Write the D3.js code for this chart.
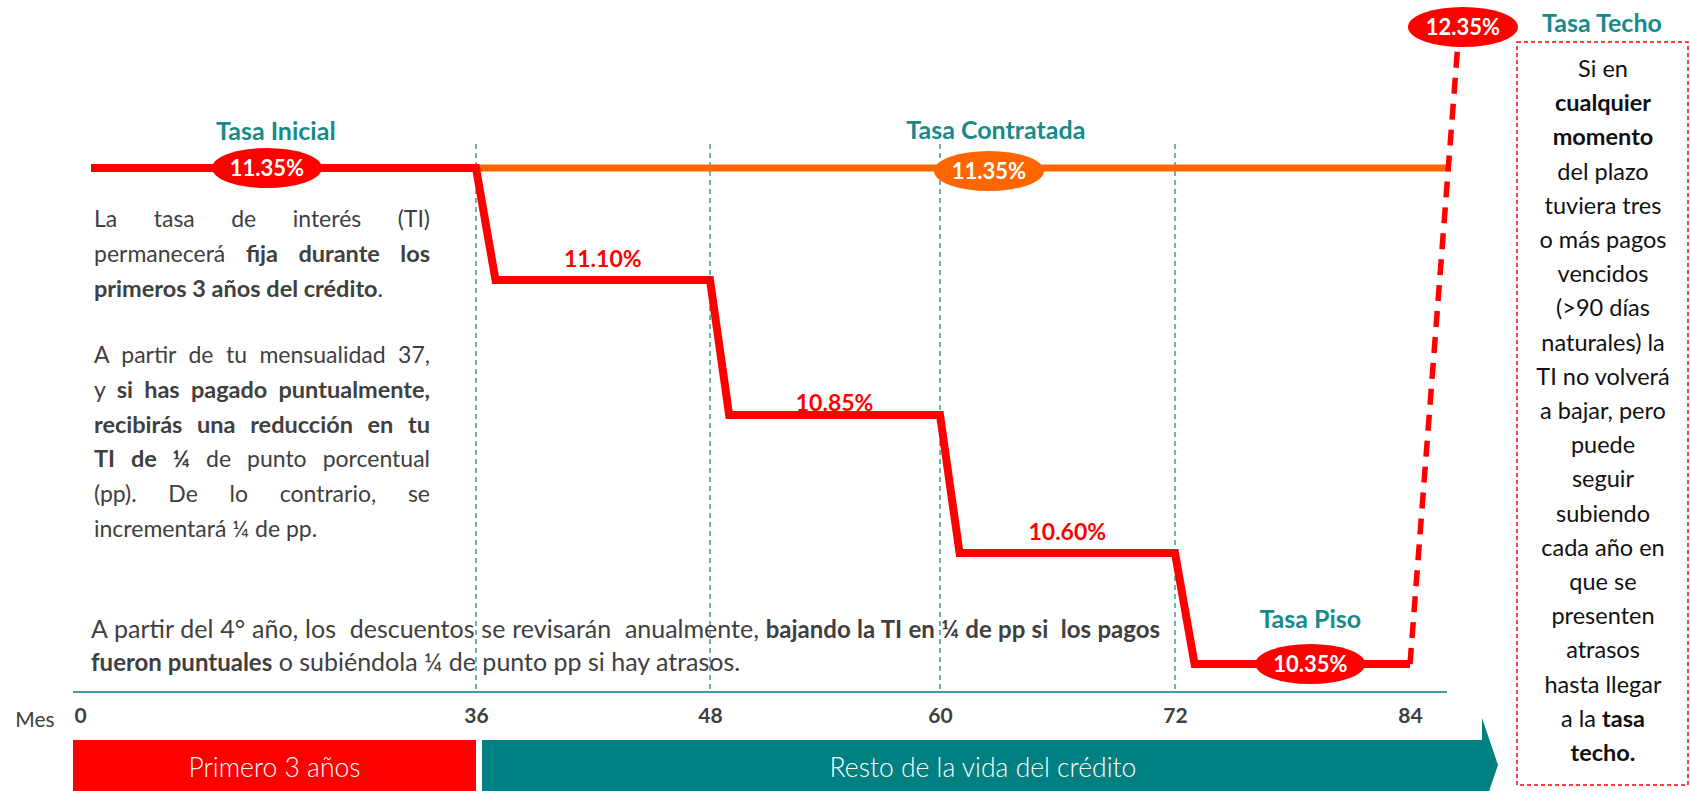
<!doctype html>
<html>
<head>
<meta charset="utf-8"/>
<script src="https://cdnjs.cloudflare.com/ajax/libs/d3/7.8.5/d3.min.js"></script>
<style>
  body { margin: 0; background: #fff; }
  svg { display: block; font-family: Lato, "Open Sans", sans-serif; }
  text { white-space: pre; }
</style>
</head>
<body>
<svg width="1690" height="791"></svg>
<script>
// --- data ---
var tickMonths = [0, 36, 48, 60, 72, 84];
var gridMonths = [36, 48, 60, 72];
var rateMonths = [1, 36, 37, 48, 49, 60, 61, 72, 73, 84];
var rateValues = [11.35, 11.35, 11.10, 11.10, 10.85, 10.85, 10.60, 10.60, 10.35, 10.35];
var contractMonths = [36, 86];
var contractValues = [11.35, 11.35];
var ceilingMonths = [84, 86.5];
var ceilingValues = [10.35, 12.35];
var periodNames = ["Primero 3 años", "Resto de la vida del crédito"];
var periodStart = [0, 36];
var periodEnd = [36, 84];

var red = "#ff0000", orange = "#ff6600", teal = "#008080", tealText = "#178a8a", gray = "#404040";

var svg = d3.select("svg");

// the drawing is not to scale, so both scales are piecewise
var x = d3.scaleLinear().domain(tickMonths).range([80, 476, 710, 940, 1175, 1410]);
var y = d3.scaleLinear().domain([10.35, 10.60, 10.85, 11.10, 11.35, 12.35]).range([664, 553, 415, 280, 168, 30]);
var fmt = function(v){ return d3.format(".2f")(v) + "%"; };

// dashed year lines
svg.append("g").selectAll("line").data(gridMonths).enter().append("line")
  .attr("x1", d => x(d)).attr("x2", d => x(d)).attr("y1", 144).attr("y2", 692)
  .attr("stroke", "#3a9a9a").attr("stroke-width", 1.5).attr("stroke-dasharray", "5,4");

// axis line + ticks
svg.append("line").attr("x1", 73).attr("x2", 1447).attr("y1", 692).attr("y2", 692)
  .attr("stroke", "#3f9f9f").attr("stroke-width", 2);

var xAxis = d3.axisBottom(x).tickValues(tickMonths).tickSize(0).tickPadding(0);
var axisG = svg.append("g").attr("transform", "translate(0,708)").call(xAxis);
axisG.select(".domain").remove();
axisG.selectAll("text").attr("font-family", "Lato, sans-serif").attr("font-size", 21)
  .attr("font-weight", "bold").attr("fill", gray).attr("dy", "0.71em");
svg.append("text").attr("x", 35).attr("y", 727).attr("text-anchor", "middle")
  .attr("font-size", 21).attr("fill", gray).text("Mes");

// period bars
svg.append("rect").attr("x", 73).attr("y", 740).attr("width", x(periodEnd[0]) - 73).attr("height", 60).attr("fill", red);
var tealX0 = x(periodStart[1]) + 6, tealX1 = 1482;
svg.append("path").attr("fill", teal)
  .attr("d", "M" + tealX0 + ",740H" + tealX1 + "V718L1498,765L" + tealX1 + ",812V800H" + tealX0 + "Z");
svg.selectAll(".period").data(periodNames).enter().append("text")
  .attr("x", (d, i) => i == 0 ? (73 + x(periodEnd[0])) / 2 : 983)
  .attr("y", 777).attr("text-anchor", "middle").attr("fill", "#fff")
  .attr("font-size", 26.5).attr("font-weight", 300).text(d => d);

// contracted rate (orange)
var line = d3.line().x(d => x(d[0])).y(d => y(d[1]));
svg.append("path").datum(d3.zip(contractMonths, contractValues))
  .attr("d", line).attr("fill", "none").attr("stroke", orange).attr("stroke-width", 7);

// ceiling jump (dashed)
svg.append("path").datum(d3.zip(ceilingMonths, ceilingValues))
  .attr("d", line).attr("fill", "none").attr("stroke", red).attr("stroke-width", 5.5)
  .attr("stroke-dasharray", "16,10");

// rate steps
svg.append("path").datum(d3.zip(rateMonths, rateValues))
  .attr("d", line).attr("fill", "none").attr("stroke", red).attr("stroke-width", 8)
  .attr("stroke-linejoin", "miter");

// step labels (intermediate levels) at middle of each flat segment
var nudge = {"10.85": 9};
for (var i = 2; i < rateMonths.length - 2; i += 2) {
  var v = rateValues[i];
  svg.append("text").attr("x", (x(rateMonths[i]) + x(rateMonths[i + 1])) / 2)
    .attr("y", y(v) - 13 + (nudge[v.toFixed(2)] || 0))
    .attr("text-anchor", "middle").attr("font-size", 23).attr("font-weight", "bold")
    .attr("fill", red).text(fmt(v));
}

// ellipse badges
function badge(cx, cy, fill, label) {
  svg.append("ellipse").attr("cx", cx).attr("cy", cy).attr("rx", 55).attr("ry", 20).attr("fill", fill);
  svg.append("text").attr("x", cx).attr("y", cy + 8).attr("text-anchor", "middle")
    .attr("font-size", 22).attr("font-weight", "bold").attr("fill", "#fff").text(label);
}
function title(cx, by, label) {
  svg.append("text").attr("x", cx).attr("y", by).attr("text-anchor", "middle")
    .attr("font-size", 25).attr("font-weight", "bold").attr("fill", tealText).text(label);
}
badge(x(17), y(rateValues[0]), red, fmt(rateValues[0]));
title(x(17.8), 140, "Tasa Inicial");
badge(x(62.5), y(contractValues[0]) + 3, orange, fmt(contractValues[0]));
title(x(62.85), 139, "Tasa Contratada");
var last = rateValues.length - 1;
badge((x(rateMonths[last - 1]) + x(rateMonths[last])) / 2 + 8, y(rateValues[last]), red, fmt(rateValues[last]));
title((x(rateMonths[last - 1]) + x(rateMonths[last])) / 2 + 8, 628, "Tasa Piso");
badge(x(ceilingMonths[1]) + 4, 27, red, fmt(ceilingValues[1]));
title(1602, 32, "Tasa Techo");

// rich text helper: segs = [[text, bold], ...]
function rich(xp, yp, segs, o) {
  var t = svg.append("text").attr("x", xp).attr("y", yp).attr("font-size", o.size)
    .attr("fill", o.color).attr("text-anchor", o.anchor || "start");
  segs.forEach(function(s){
    var ts = t.append("tspan").attr("font-weight", s[1] ? "bold" : "normal").text(s[0]);
    if (s[1] && o.boldSize) ts.attr("font-size", o.boldSize);
  });
  if (o.width) {
    var nat = t.node().getComputedTextLength();
    var spaces = segs.map(s => s[0]).join("").split(" ").length - 1;
    if (spaces > 0) t.attr("word-spacing", (o.width - nat) / spaces);
  }
  return t;
}

// left paragraph (justified between 94 and 430)
var para = [
  [[["La tasa de interés (TI)", 0]], true],
  [[["permanecerá ", 0], ["fija durante los", 1]], true],
  [[["primeros 3 años del crédito", 1], [".", 0]], false],
  null,
  [[["A partir de tu mensualidad 37,", 0]], true],
  [[["y ", 0], ["si has pagado puntualmente,", 1]], true],
  [[["recibirás una reducción en tu", 1]], true],
  [[["TI de ¼", 1], [" de punto porcentual", 0]], true],
  [[["(pp). De lo contrario, se", 0]], true],
  [[["incrementará ¼ de pp.", 0]], false]
];
var baselines = [227, 262, 297, null, 363, 398, 433, 467, 502, 537];
para.forEach(function(p, i){
  if (!p) return;
  rich(94, baselines[i], p[0], {size: 23, boldSize: 23.5, color: gray, width: p[1] ? 336 : null});
});

// bottom note
rich(91, 638, [["A partir del 4° año, los  descuentos se revisarán  anualmente, ", 0], ["bajando la TI en ¼ de pp si  los pagos", 1]],
  {size: 25, boldSize: 24, color: gray, width: 1069});
rich(91, 671, [["fueron puntuales", 1], [" o subiéndola ¼ de punto pp si hay atrasos.", 0]],
  {size: 25, boldSize: 24, color: gray});

// ceiling note box
svg.append("rect").attr("x", 1517).attr("y", 42).attr("width", 171).attr("height", 743)
  .attr("fill", "none").attr("stroke", red).attr("stroke-width", 1.5).attr("stroke-dasharray", "4,3");
var boxLines = [
  [["Si en", 0]], [["cualquier", 1]], [["momento", 1]], [["del plazo", 0]], [["tuviera tres", 0]],
  [["o más pagos", 0]], [["vencidos", 0]], [["(>90 días", 0]], [["naturales) la", 0]],
  [["TI no volverá", 0]], [["a bajar, pero", 0]], [["puede", 0]], [["seguir", 0]],
  [["subiendo", 0]], [["cada año en", 0]], [["que se", 0]], [["presenten", 0]],
  [["atrasos", 0]], [["hasta llegar", 0]], [["a la ", 0], ["tasa", 1]], [["techo.", 1]]
];
boxLines.forEach(function(l, i){
  rich(1603, 77 + i * 34.2, l, {size: 23.5, color: "#111", anchor: "middle"});
});
</script>
</body>
</html>
